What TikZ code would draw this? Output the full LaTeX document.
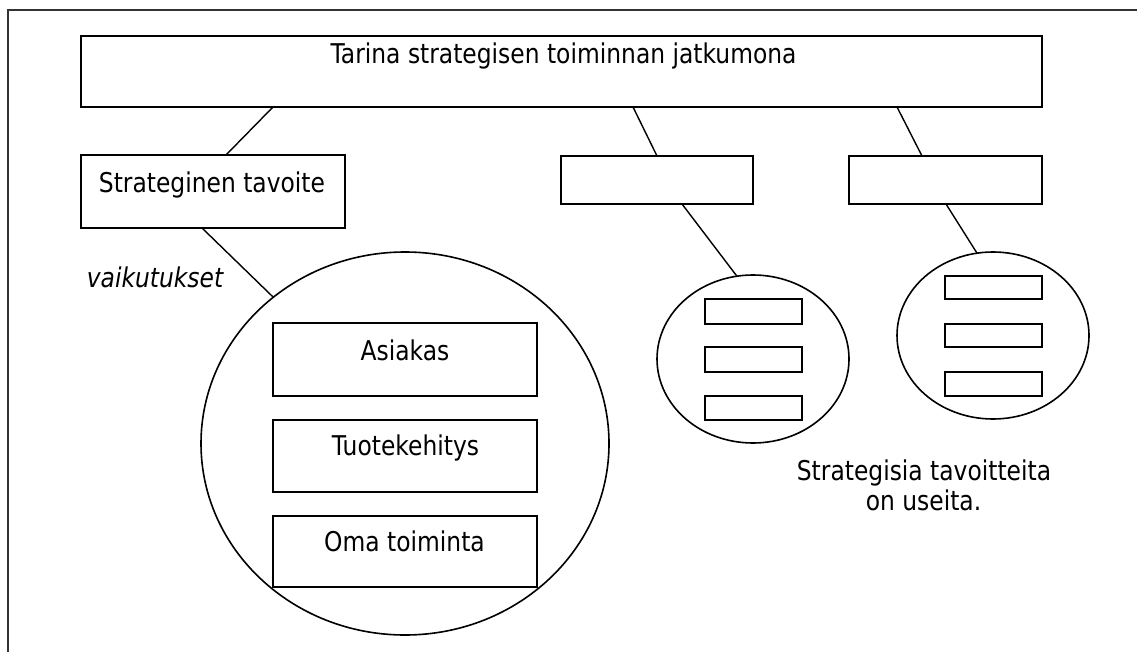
\documentclass[tikz,border=0pt]{standalone}
\usepackage{fontspec}
\setmainfont{DejaVu Sans}[FakeStretch=0.86]
\usetikzlibrary{shapes.geometric,calc}
\begin{document}
\begin{tikzpicture}[x=0.75pt,y=-0.75pt,
  box/.style={draw, line width=1.2pt, rectangle, inner sep=0pt, outer sep=0pt},
  sz/.style 2 args={minimum width=#1*0.75pt, minimum height=#2*0.75pt},
  oval/.style={draw, line width=1.2pt, ellipse, inner sep=0pt, outer sep=0pt},
  conn/.style={line width=1.05pt},
  lbl/.style={anchor=base, inner sep=0pt, font=\fontsize{20.4}{24}\selectfont},
  frameline/.style={line width=1.4pt, draw=black!80}]
\useasboundingbox (0,0) rectangle (1137,652);
% frame (top and left edges only)
\coordinate (fTL) at (8,10);
\coordinate (fTR) at (1137,10);
\coordinate (fBL) at (8,652);
\draw[frameline] (fTR) -- (fTL) -- (fBL);
% boxes
\node[box, sz={961}{71}] (top) at (561.5,71.5) {};
\node[box, sz={264}{73}] (goal) at (213,191.5) {};
\node[box, sz={192}{48}] (g2) at (657,180) {};
\node[box, sz={193}{48}] (g3) at (945.5,180) {};
% ovals
\node[oval, sz={408}{383}] (c1) at (405,443.5) {};
\node[oval, sz={192}{168}] (c2) at (753,359) {};
\node[oval, sz={192}{167}] (c3) at (993,335.5) {};
% inner boxes of big oval
\node[box, sz={264}{73}] (bA) at (405,359.5) {};
\node[box, sz={264}{72}] (bT) at (405,456) {};
\node[box, sz={264}{71}] (bO) at (405,551.5) {};
% small boxes middle oval
\node[box, sz={97}{25}] (m1) at (753.5,311.5) {};
\node[box, sz={97}{25}] (m2) at (753.5,359.5) {};
\node[box, sz={97}{24}] (m3) at (753.5,408) {};
% small boxes right oval
\node[box, sz={97}{23}] (r1) at (993.5,287.5) {};
\node[box, sz={97}{23}] (r2) at (993.5,335.5) {};
\node[box, sz={97}{24}] (r3) at (993.5,384) {};
% connectors
\draw[conn] ($(top.south west)+(192,0)$) -- ($(goal.north west)+(145,0)$);
\draw[conn] ($(top.south west)+(552,0)$) -- ($(g2.north west)+(96,0)$);
\draw[conn] ($(top.south west)+(816,0)$) -- ($(g3.north west)+(73,0)$);
\draw[conn] ($(goal.south west)+(121,0)$) -- (c1.132);
\draw[conn] ($(g2.south west)+(121,0)$) -- (c2.101);
\draw[conn] ($(g3.south west)+(97,0)$) -- (c3.101);
% texts
\node[lbl] (tTitle) at (563.5,64) {Tarina strategisen toiminnan jatkumona};
\node[lbl] (tGoal) at (212,192.5) {Strateginen tavoite};
\node[lbl, font=\fontsize{20.4}{24}\selectfont\itshape] (tVaik) at (155,287) {vaikutukset};
\node[lbl] (tA) at (405,360) {Asiakas};
\node[lbl] (tT) at (405.5,455.5) {Tuotekehitys};
\node[lbl] (tO) at (404.5,551.5) {Oma toiminta};
\node[lbl] (tS1) at (924,480) {Strategisia tavoitteita};
\node[lbl] (tS2) at (923.5,510.5) {on useita.};
\end{tikzpicture}
\end{document}
